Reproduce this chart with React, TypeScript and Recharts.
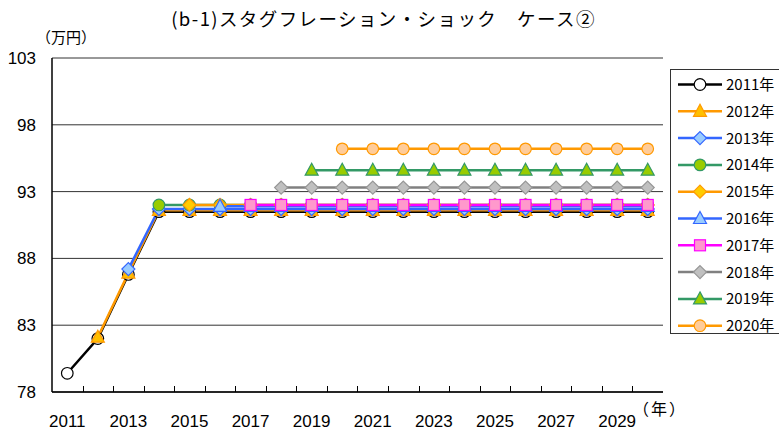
import { LineChart, Line, XAxis, YAxis, CartesianGrid } from "recharts";

const years = [
  "2011", "2012", "2013", "2014", "2015", "2016", "2017", "2018", "2019", "2020",
  "2021", "2022", "2023", "2024", "2025", "2026", "2027", "2028", "2029", "2030",
];
const yTicks = [78, 83, 88, 93, 98, 103];

const s2011 = [79.4, 82.0, 86.8, 91.5, 91.5, 91.5, 91.5, 91.5, 91.5, 91.5, 91.5, 91.5, 91.5, 91.5, 91.5, 91.5, 91.5, 91.5, 91.5, 91.5];
const s2012 = [null, 82.1, 86.9, 91.6, 91.6, 91.6, 91.6, 91.6, 91.6, 91.6, 91.6, 91.6, 91.6, 91.6, 91.6, 91.6, 91.6, 91.6, 91.6, 91.6];
const s2013 = [null, null, 87.2, 91.7, 91.7, 91.7, 91.7, 91.7, 91.7, 91.7, 91.7, 91.7, 91.7, 91.7, 91.7, 91.7, 91.7, 91.7, 91.7, 91.7];
const s2014 = [null, null, null, 92.0, 92.0, 92.0, 92.0, 92.0, 92.0, 92.0, 92.0, 92.0, 92.0, 92.0, 92.0, 92.0, 92.0, 92.0, 92.0, 92.0];
const s2015 = [null, null, null, null, 92.0, 92.0, 92.0, 92.0, 92.0, 92.0, 92.0, 92.0, 92.0, 92.0, 92.0, 92.0, 92.0, 92.0, 92.0, 92.0];
const s2016 = [null, null, null, null, null, 91.9, 91.9, 91.9, 91.9, 91.9, 91.9, 91.9, 91.9, 91.9, 91.9, 91.9, 91.9, 91.9, 91.9, 91.9];
const s2017 = [null, null, null, null, null, null, 92.0, 92.0, 92.0, 92.0, 92.0, 92.0, 92.0, 92.0, 92.0, 92.0, 92.0, 92.0, 92.0, 92.0];
const s2018 = [null, null, null, null, null, null, null, 93.3, 93.3, 93.3, 93.3, 93.3, 93.3, 93.3, 93.3, 93.3, 93.3, 93.3, 93.3, 93.3];
const s2019 = [null, null, null, null, null, null, null, null, 94.6, 94.6, 94.6, 94.6, 94.6, 94.6, 94.6, 94.6, 94.6, 94.6, 94.6, 94.6];
const s2020 = [null, null, null, null, null, null, null, null, null, 96.2, 96.2, 96.2, 96.2, 96.2, 96.2, 96.2, 96.2, 96.2, 96.2, 96.2];

type Shape = "circle" | "triangle" | "diamond" | "square";

const series: { key: string; name: string; values: (number | null)[]; stroke: string; fill: string; mstroke: string; shape: Shape }[] = [
  { key: "s2011", name: "2011年", values: s2011, stroke: "#000000", fill: "#ffffff", mstroke: "#000000", shape: "circle" },
  { key: "s2012", name: "2012年", values: s2012, stroke: "#ff9900", fill: "#ffc000", mstroke: "#ff9900", shape: "triangle" },
  { key: "s2013", name: "2013年", values: s2013, stroke: "#3366ff", fill: "#99ccff", mstroke: "#3366ff", shape: "diamond" },
  { key: "s2014", name: "2014年", values: s2014, stroke: "#339966", fill: "#99cc00", mstroke: "#339966", shape: "circle" },
  { key: "s2015", name: "2015年", values: s2015, stroke: "#ff9900", fill: "#ffcc00", mstroke: "#ff9900", shape: "diamond" },
  { key: "s2016", name: "2016年", values: s2016, stroke: "#3366ff", fill: "#99ccff", mstroke: "#3366ff", shape: "triangle" },
  { key: "s2017", name: "2017年", values: s2017, stroke: "#ff00ff", fill: "#ff99cc", mstroke: "#ff00ff", shape: "square" },
  { key: "s2018", name: "2018年", values: s2018, stroke: "#808080", fill: "#c0c0c0", mstroke: "#969696", shape: "diamond" },
  { key: "s2019", name: "2019年", values: s2019, stroke: "#339966", fill: "#99cc00", mstroke: "#339966", shape: "triangle" },
  { key: "s2020", name: "2020年", values: s2020, stroke: "#ff9900", fill: "#ffcc99", mstroke: "#ff9900", shape: "circle" },
];

const data = years.map((year, i) => {
  const row: Record<string, string | number | null> = { year };
  series.forEach((s) => { row[s.key] = s.values[i]; });
  return row;
});

const numFont = "'Liberation Sans', Arial, sans-serif";
const jpFont = "'Noto Sans CJK JP', sans-serif";

const CHART_W = 779;
const CHART_H = 434;
const MARGIN = { top: 58, right: 116, bottom: 0, left: 0 };
const Y_AXIS_W = 52;
const X_AXIS_H = 42;
const X_TICK_MARGIN = 23;
const PLOT_W = CHART_W - MARGIN.right - MARGIN.left - Y_AXIS_W;
const AXIS_Y = CHART_H - MARGIN.bottom - X_AXIS_H;

function Marker({ cx, cy, shape, fill, stroke }: { cx: number; cy: number; shape: Shape; fill: string; stroke: string }) {
  if (shape === "circle") return <circle cx={cx} cy={cy} r={5.8} fill={fill} stroke={stroke} strokeWidth={1.2} />;
  if (shape === "square") return <rect x={cx - 5.5} y={cy - 5.5} width={11} height={11} fill={fill} stroke={stroke} strokeWidth={1.2} />;
  if (shape === "diamond")
    return <polygon points={`${cx},${cy - 6.5} ${cx + 6.5},${cy} ${cx},${cy + 6.5} ${cx - 6.5},${cy}`} fill={fill} stroke={stroke} strokeWidth={1.2} />;
  return <polygon points={`${cx},${cy - 7} ${cx + 6.5},${cy + 5} ${cx - 6.5},${cy + 5}`} fill={fill} stroke={stroke} strokeWidth={1.2} />;
}

// label every other year, tick mark between categories pointing into the plot
function YearTick(props: any) {
  const { x, y, payload } = props;
  const idx = years.indexOf(String(payload.value));
  const half = PLOT_W / years.length / 2;
  const bx = Math.round(Number(x) + half) + 0.5;
  return (
    <g>
      {idx < years.length - 1 && (
        <line x1={bx} x2={bx} y1={AXIS_Y} y2={AXIS_Y - 6} stroke="#000" strokeWidth={1} />
      )}
      {idx % 2 === 0 && (
        <text x={x} y={y} dy="0.71em" textAnchor="middle" fontSize={17} fill="#000" fontFamily={numFont}>
          {payload.value}
        </text>
      )}
    </g>
  );
}

function LegendBox() {
  return (
    <svg width={115} height={266} style={{ position: "absolute", left: 670, top: 69 }}>
      <rect x={0.5} y={0.5} width={114} height={264} fill="#fff" stroke="#333" />
      {series.map((s, i) => {
        const y = 15.5 + i * 26.8;
        return (
          <g key={s.key}>
            <line x1={8} x2={52} y1={y} y2={y} stroke={s.stroke} strokeWidth={2.5} />
            <Marker cx={30} cy={y} shape={s.shape} fill={s.fill} stroke={s.mstroke} />
            <text x={56} y={y + 5.5} fontSize={15} fontFamily={jpFont} fill="#000">{s.name}</text>
          </g>
        );
      })}
    </svg>
  );
}

export default function App() {
  return (
    <div style={{ position: "absolute", left: 0, top: 0, width: CHART_W, height: CHART_H, background: "#fff" }}>
      <div style={{ position: "absolute", left: -6, width: 779, top: 5, textAlign: "center", fontFamily: jpFont, fontSize: 18.5, letterSpacing: 1.4, whiteSpace: "pre" }}>
        {"(b-1)スタグフレーション・ショック　ケース②"}
      </div>
      <div style={{ position: "absolute", left: 36, top: 26, fontFamily: jpFont, fontSize: 15 }}>（万円）</div>
      <div style={{ position: "absolute", left: 633, top: 396, fontFamily: jpFont, fontSize: 16, letterSpacing: 2 }}>（年）</div>
      <LineChart width={CHART_W} height={CHART_H} data={data} margin={MARGIN}>
        <CartesianGrid vertical={false} stroke="#333" strokeWidth={1} />
        <XAxis
          dataKey="year"
          scale="band"
          interval={0}
          tickLine={false}
          tickSize={0}
          tickMargin={X_TICK_MARGIN}
          height={X_AXIS_H}
          axisLine={{ stroke: "#000", strokeWidth: 1.5 }}
          tick={YearTick}
        />
        <YAxis
          domain={[78, 103]}
          ticks={yTicks}
          width={Y_AXIS_W}
          tickLine={false}
          tickSize={0}
          tickMargin={16}
          axisLine={{ stroke: "#000", strokeWidth: 1.5 }}
          tick={{ fontSize: 17, fill: "#000", fontFamily: numFont }}
        />
        <YAxis yAxisId="r" orientation="right" domain={[78, 103]} tick={false} tickLine={false} width={0} axisLine={{ stroke: "#888" }} />
        {series.map((s) => (
          <Line
            key={s.key}
            dataKey={s.key}
            name={s.name}
            stroke={s.stroke}
            strokeWidth={2.5}
            isAnimationActive={false}
            connectNulls={false}
            dot={(p: any) =>
              p.value == null || p.cx == null ? <g key={`${s.key}-${p.index}`} /> : (
                <Marker key={`${s.key}-${p.index}`} cx={p.cx} cy={p.cy} shape={s.shape} fill={s.fill} stroke={s.mstroke} />
              )
            }
            activeDot={false}
          />
        ))}
      </LineChart>
      <LegendBox />
    </div>
  );
}
